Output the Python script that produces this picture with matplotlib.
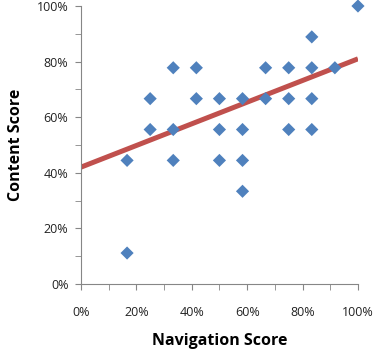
import matplotlib
matplotlib.use("Agg")
import matplotlib.pyplot as plt
from matplotlib.ticker import PercentFormatter, MultipleLocator
import numpy as np

# scores (fractions)
nav = [1/6, 1/6, 3/12, 3/12, 4/12, 4/12, 4/12, 5/12, 5/12,
       6/12, 6/12, 6/12, 7/12, 7/12, 7/12, 7/12, 8/12, 8/12,
       9/12, 9/12, 9/12, 10/12, 10/12, 10/12, 10/12, 11/12, 1.0]
content = [4/9, 1/9, 6/9, 5/9, 7/9, 5/9, 4/9, 7/9, 6/9,
           6/9, 5/9, 4/9, 6/9, 5/9, 4/9, 3/9, 7/9, 6/9,
           7/9, 6/9, 5/9, 8/9, 7/9, 6/9, 5/9, 7/9, 1.0]

# trend line as shown in the chart
trend_intercept = 0.42
trend_slope = 0.39

plt.rcParams['font.family'] = ['Open Sans', 'DejaVu Sans']

fig = plt.figure(figsize=(3.78, 3.54), dpi=100)
ax = fig.add_axes([0.214, 0.198, 0.733, 0.785])

xs = np.array([0, 1])
ax.plot(xs, trend_intercept + trend_slope * xs, color='#C0504D', lw=3.6,
        zorder=2, solid_capstyle='butt')

ax.scatter(nav, content, marker='D', s=45, color='#4F81BD', edgecolors='none',
           zorder=3, clip_on=False)

ax.set_xlim(0, 1)
ax.set_ylim(0, 1)
ax.xaxis.set_major_locator(MultipleLocator(0.2))
ax.yaxis.set_major_locator(MultipleLocator(0.2))
ax.xaxis.set_minor_locator(MultipleLocator(0.1))
ax.yaxis.set_minor_locator(MultipleLocator(0.1))
ax.xaxis.set_major_formatter(PercentFormatter(1.0, decimals=0))
ax.yaxis.set_major_formatter(PercentFormatter(1.0, decimals=0))

for s in ['top', 'right']:
    ax.spines[s].set_visible(False)
for s in ['left', 'bottom']:
    ax.spines[s].set_color('#868686')
ax.tick_params(which='both', direction='out', color='#868686', labelsize=9,
               labelcolor='#222222', length=4)
ax.tick_params(axis='x', pad=12)
ax.tick_params(axis='y', pad=5)

ax.set_xlabel('Navigation Score', fontsize=11.5, fontweight='bold', labelpad=10)
ax.set_ylabel('Content Score', fontsize=11.5, fontweight='bold', labelpad=9)

fig.savefig('out.png', dpi=100)
